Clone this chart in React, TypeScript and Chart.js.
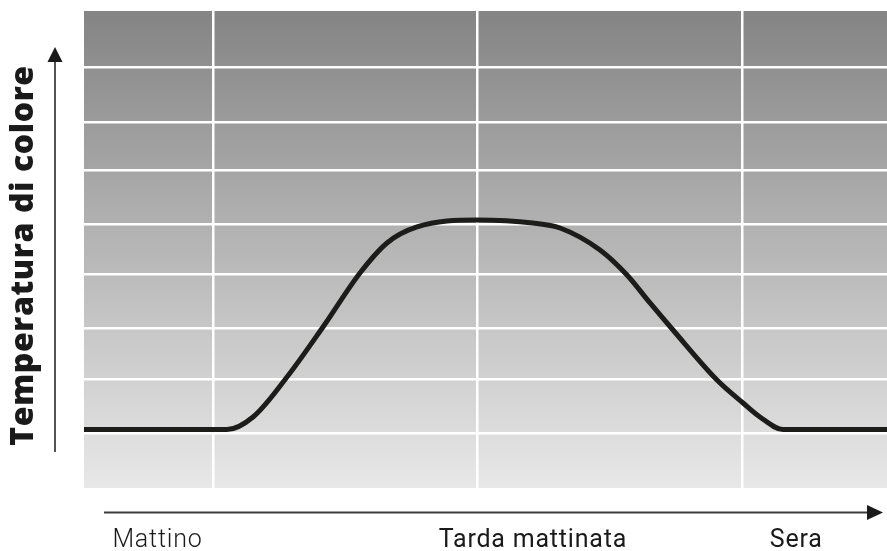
import React, { useEffect, useRef } from "react";
import { Chart, registerables } from "chart.js";

Chart.register(...registerables);

// Horizontal position along the day (0 = start, 100 = end)
const curveX = [0, 17.8, 21.05, 25.28, 29.76, 34.37, 37.73, 41.47, 48.94, 55.9, 59.28, 64.26, 67.62, 70.49, 73.35, 78.83, 82.07, 84.18, 87.05, 100];
// Colour temperature level (arbitrary units, 0..9)
const curveY = [1.104, 1.104, 1.34, 2.094, 3.038, 4.057, 4.623, 4.925, 5.057, 5.0, 4.906, 4.491, 4.019, 3.491, 2.981, 2.038, 1.604, 1.34, 1.104, 1.104];

const yGridValues = [1.04, 2.06, 3.02, 4.04, 4.98, 6.0, 6.91, 7.94];
const xGridValues = [16.06, 48.94, 81.94];

const xLabels = ["Mattino", "Tarda mattinata", "Sera"];
const xLabelPositions = [9.15, 55.9, 88.7];
const yTitle = "Temperatura di colore";

export default function App() {
  const ref = useRef<HTMLCanvasElement | null>(null);

  useEffect(() => {
    if (!ref.current) return;
    const decor = {
      id: "decor",
      beforeDraw(chart: any) {
        const { ctx, chartArea: a } = chart;
        const g = ctx.createLinearGradient(0, a.top, 0, a.bottom);
        g.addColorStop(0, "#848484");
        g.addColorStop(1, "#e8e8e8");
        ctx.save();
        ctx.fillStyle = g;
        ctx.fillRect(a.left, a.top, a.right - a.left, a.bottom - a.top);
        ctx.restore();
      },
      afterDraw(chart: any) {
        const { ctx, chartArea: a } = chart;
        const xs = chart.scales.x;
        ctx.save();
        // y arrow
        const ax = a.left - 29;
        ctx.strokeStyle = "#1a1a1a";
        ctx.fillStyle = "#1a1a1a";
        ctx.lineWidth = 1.5;
        ctx.beginPath();
        ctx.moveTo(ax, a.bottom - 36);
        ctx.lineTo(ax, a.top + 50);
        ctx.stroke();
        ctx.beginPath();
        ctx.moveTo(ax, a.top + 36);
        ctx.lineTo(ax - 7.5, a.top + 51);
        ctx.lineTo(ax + 7.5, a.top + 51);
        ctx.closePath();
        ctx.fill();
        // x arrow
        const ay = a.bottom + 24.5;
        ctx.strokeStyle = "#3a3a3a";
        ctx.fillStyle = "#1a1a1a";
        ctx.lineWidth = 2;
        ctx.beginPath();
        ctx.moveTo(a.left + 20, ay);
        ctx.lineTo(a.right - 18, ay);
        ctx.stroke();
        ctx.beginPath();
        ctx.moveTo(a.right - 4, ay);
        ctx.lineTo(a.right - 20, ay - 7.5);
        ctx.lineTo(a.right - 20, ay + 7.5);
        ctx.closePath();
        ctx.fill();
        // x labels
        ctx.fillStyle = "#1a1a1a";
        ctx.textAlign = "center";
        ctx.textBaseline = "alphabetic";
        (ctx as any).letterSpacing = "0.8px";
        xLabels.forEach((t, i) => {
          ctx.font = (i === 0 ? "300" : "400") + " 25px Roboto";
          ctx.fillText(t, xs.getPixelForValue(xLabelPositions[i]), a.bottom + 59);
        });
        // y title
        (ctx as any).letterSpacing = "0.6px";
        ctx.translate(33, (a.top + a.bottom) / 2 + 6);
        ctx.rotate(-Math.PI / 2);
        ctx.font = "800 32px 'Open Sans'";
        ctx.fillText(yTitle, 0, 0);
        ctx.restore();
      },
    };

    const chart = new Chart(ref.current, {
      type: "line",
      data: {
        datasets: [
          {
            data: curveX.map((x, i) => ({ x, y: curveY[i] })),
            borderColor: "#1c1c1a",
            borderWidth: 5,
            pointRadius: 0,
            cubicInterpolationMode: "monotone",
            fill: false,
          },
        ],
      },
      options: {
        responsive: false,
        animation: false,
        layout: { padding: { left: 84, top: 11, right: 0, bottom: 63 } },
        plugins: { legend: { display: false }, tooltip: { enabled: false } },
        scales: {
          x: {
            type: "linear",
            min: 0,
            max: 100,
            afterBuildTicks: (s: any) => {
              s.ticks = xGridValues.map((v) => ({ value: v }));
            },
            ticks: { display: false },
            grid: { color: "#ffffff", lineWidth: 2.5, drawTicks: false },
            border: { display: false },
          },
          y: {
            min: 0,
            max: 9,
            afterBuildTicks: (s: any) => {
              s.ticks = yGridValues.map((v) => ({ value: v }));
            },
            ticks: { display: false },
            grid: { color: "#ffffff", lineWidth: 2.5, drawTicks: false },
            border: { display: false },
          },
        },
      },
      plugins: [decor],
    } as any);
    return () => chart.destroy();
  }, []);

  return (
    <div style={{ position: "fixed", left: 0, top: 0, width: 887, height: 551, background: "#fff" }}>
      <canvas ref={ref} width={887} height={551} />
    </div>
  );
}
